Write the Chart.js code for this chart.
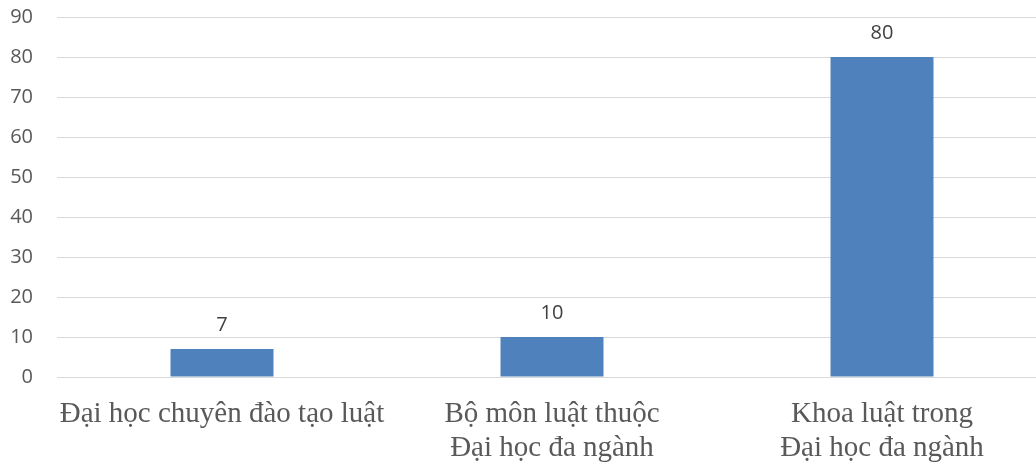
<!DOCTYPE html>
<html>
<head>
<meta charset="utf-8">
<script src="https://cdn.jsdelivr.net/npm/chart.js@4/dist/chart.umd.min.js"></script>
<style>
html,body{margin:0;padding:0;background:#fff;overflow:hidden;width:1036px;height:465px;}
#wrap{position:relative;width:1047px;height:465px;}
</style>
</head>
<body>
<div id="wrap"><canvas id="c" width="1047" height="465"></canvas></div>
<script>
const categories = [
  "Đại học chuyên đào tạo luật",
  ["Bộ môn luật thuộc", "Đại học đa ngành"],
  ["Khoa luật trong", "Đại học đa ngành"]
];
const values = [7, 10, 80];
const yTicks = { min: 0, max: 90, step: 10 };

const valueLabels = {
  id: 'valueLabels',
  afterDatasetsDraw(chart) {
    const ctx = chart.ctx;
    const meta = chart.getDatasetMeta(0);
    ctx.save();
    ctx.font = '20px "Open Sans"';
    ctx.fillStyle = '#404040';
    ctx.textAlign = 'center';
    ctx.textBaseline = 'alphabetic';
    meta.data.forEach((bar, i) => {
      ctx.fillText(String(values[i]), bar.x, bar.y - 18);
    });
    ctx.restore();
  }
};

new Chart(document.getElementById('c'), {
  type: 'bar',
  data: {
    labels: categories,
    datasets: [{
      data: values,
      backgroundColor: '#4f81bd',
      borderWidth: 0,
      barPercentage: 0.312,
      categoryPercentage: 1
    }]
  },
  options: {
    responsive: false,
    animation: false,
    layout: { padding: { top: 17, left: 0, right: 0, bottom: 0 } },
    plugins: { legend: { display: false }, tooltip: { enabled: false } },
    scales: {
      x: {
        grid: { display: false },
        border: { display: false },
        ticks: {
          color: '#595959',
          font: { family: '"Liberation Serif"', size: 29, lineHeight: 1.17 },
          padding: 12,
          maxRotation: 0,
          autoSkip: false
        },
        afterFit(s) { s.height = 88; }
      },
      y: {
        min: yTicks.min,
        max: yTicks.max,
        grid: { color: '#d9d9d9', lineWidth: 1, drawTicks: false },
        border: { display: false },
        ticks: {
          stepSize: yTicks.step,
          color: '#595959',
          font: { family: '"Open Sans"', size: 20 },
          padding: 24
        },
        afterFit(s) { s.width = 57; s.paddingTop = 0; s.paddingBottom = 0; }
      }
    }
  },
  plugins: [valueLabels]
});
</script>
</body>
</html>
